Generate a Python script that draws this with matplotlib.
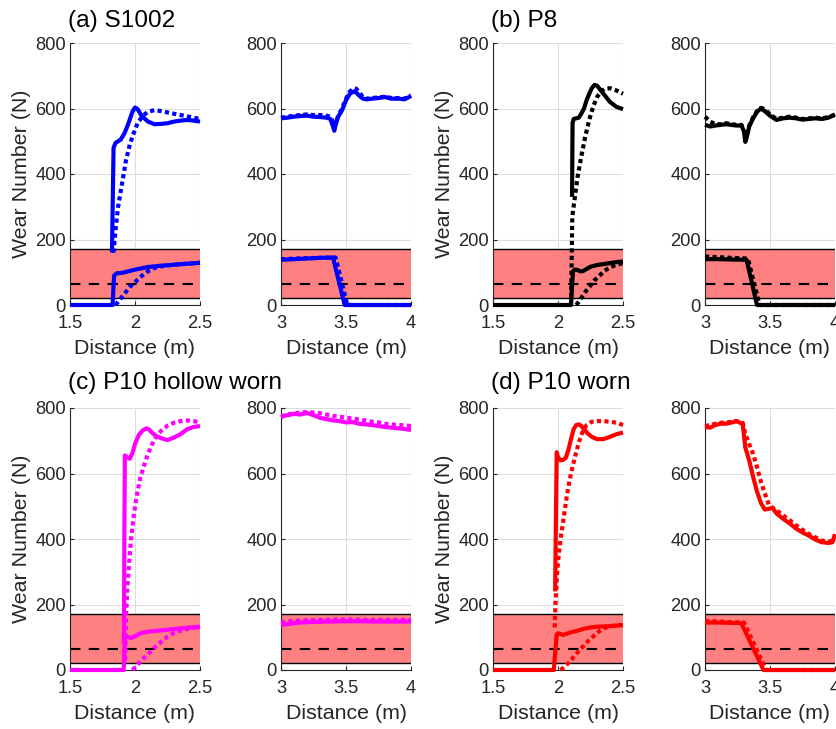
"""Wear number along distance for four wheel profiles (entry / exit of curve)"""
import matplotlib
matplotlib.use("Agg")
import matplotlib.pyplot as plt

plt.rcParams["font.family"] = ["Liberation Sans", "DejaVu Sans"]

## Band limits and reference line (N)
BAND_LOW = 20
BAND_HIGH = 170
BAND_MID = 65

## (a) S1002 - entry, x in [1.5, 2.5]
a_in_hi_solid = ([1.823, 1.835, 1.85, 1.87, 1.89, 1.92, 1.95, 1.98, 2.0, 2.02, 2.05, 2.1, 2.15, 2.2, 2.25, 2.3, 2.35, 2.4, 2.45, 2.5],
                 [160, 480, 495, 500, 505, 525, 555, 590, 603, 598, 578, 560, 552, 553, 555, 560, 563, 565, 563, 560])
a_in_hi_dot = ([1.835, 1.85, 1.87, 1.9, 1.93, 1.96, 1.99, 2.02, 2.06, 2.1, 2.15, 2.2, 2.25, 2.3, 2.35, 2.4, 2.45, 2.5],
               [160, 230, 300, 370, 440, 490, 525, 555, 578, 590, 595, 592, 588, 584, 580, 576, 572, 568])
a_in_lo_solid = ([1.5, 1.828, 1.835, 1.84, 1.86, 1.9, 1.95, 2.0, 2.05, 2.1, 2.2, 2.3, 2.4, 2.5],
                 [0, 0, 60, 90, 97, 98, 103, 108, 112, 116, 120, 123, 126, 129])
a_in_lo_dot = ([1.85, 1.88, 1.92, 1.96, 2.0, 2.05, 2.1, 2.15, 2.2, 2.3, 2.4, 2.5],
               [0, 15, 35, 55, 70, 88, 103, 113, 118, 123, 126, 129])

## (a) S1002 - exit, x in [3, 4]
a_out_x = [3.0, 3.05, 3.1, 3.15, 3.2, 3.25, 3.3, 3.35, 3.38, 3.4, 3.41, 3.42, 3.44, 3.47, 3.5, 3.53,
           3.56, 3.58, 3.6, 3.63, 3.66, 3.7, 3.75, 3.8, 3.85, 3.9, 3.95, 4.0]
a_out_hi_solid = (a_out_x, [570, 572, 575, 577, 578, 575, 574, 572, 568, 545, 532, 550, 575, 595, 625, 645,
                            652, 648, 640, 630, 628, 630, 632, 635, 630, 630, 628, 638])
a_out_hi_dot = (a_out_x, [572, 575, 578, 580, 582, 580, 580, 578, 575, 560, 545, 555, 578, 600, 630, 652,
                          662, 660, 650, 635, 630, 632, 634, 636, 632, 632, 630, 640])
a_out_lo_solid = ([3.0, 3.1, 3.2, 3.3, 3.4, 3.49, 4.0], [138, 140, 142, 144, 145, 0, 0])
a_out_lo_dot = ([3.0, 3.2, 3.42, 3.51, 4.0], [140, 143, 145, 0, 0])

## (b) P8 - entry
b_in_hi_solid = ([2.108, 2.112, 2.12, 2.14, 2.16, 2.18, 2.2, 2.22, 2.24, 2.26, 2.28, 2.3, 2.32, 2.35, 2.4, 2.45, 2.5],
                 [330, 555, 568, 570, 572, 585, 600, 625, 645, 662, 672, 670, 660, 645, 620, 605, 598])
b_in_hi_dot = ([2.1, 2.105, 2.11, 2.13, 2.15, 2.18, 2.21, 2.24, 2.27, 2.3, 2.33, 2.36, 2.4, 2.45, 2.5],
               [0, 130, 270, 330, 390, 455, 515, 565, 605, 635, 652, 660, 662, 655, 645])
b_in_lo_solid = ([1.5, 2.1, 2.108, 2.115, 2.13, 2.15, 2.17, 2.19, 2.22, 2.25, 2.3, 2.35, 2.4, 2.45, 2.5],
                 [0, 0, 60, 103, 108, 107, 103, 103, 110, 117, 122, 125, 128, 131, 133])
b_in_lo_dot = ([2.14, 2.17, 2.2, 2.24, 2.28, 2.32, 2.36, 2.4, 2.45, 2.5],
               [0, 15, 35, 55, 75, 90, 105, 115, 123, 128])

## (b) P8 - exit
b_out_x = [3.0, 3.04, 3.08, 3.12, 3.16, 3.2, 3.24, 3.28, 3.3, 3.31, 3.32, 3.34, 3.37, 3.4, 3.43, 3.46,
           3.5, 3.55, 3.6, 3.65, 3.7, 3.75, 3.8, 3.85, 3.9, 3.95, 4.0]
b_out_hi_solid = (b_out_x, [550, 545, 548, 550, 552, 550, 548, 548, 530, 498, 510, 545, 570, 590, 600, 592,
                            578, 565, 570, 572, 570, 566, 568, 570, 568, 572, 582])
b_out_hi_dot = (b_out_x, [575, 560, 552, 552, 555, 553, 550, 550, 535, 505, 515, 548, 573, 592, 602, 598,
                          582, 568, 572, 575, 572, 568, 570, 572, 570, 574, 580])
b_out_lo_solid = ([3.0, 3.1, 3.2, 3.32, 3.4, 4.0], [140, 140, 139, 138, 0, 0])
b_out_lo_dot = ([3.0, 3.1, 3.2, 3.33, 3.42, 4.0], [148, 146, 144, 142, 0, 0])

## (c) P10 hollow worn - entry
c_in_hi_solid = ([1.915, 1.918, 1.922, 1.94, 1.96, 1.98, 2.0, 2.03, 2.06, 2.09, 2.11, 2.13, 2.16, 2.2, 2.25, 2.3, 2.35, 2.4, 2.45, 2.5],
                 [80, 400, 655, 650, 645, 662, 690, 718, 732, 738, 734, 725, 715, 708, 702, 710, 720, 735, 742, 745])
c_in_hi_dot = ([1.925, 1.93, 1.94, 1.955, 1.97, 1.99, 2.01, 2.04, 2.07, 2.1, 2.13, 2.16, 2.2, 2.25, 2.3, 2.35, 2.4, 2.45, 2.5],
               [30, 150, 240, 330, 400, 470, 525, 585, 625, 660, 688, 710, 730, 746, 755, 760, 762, 760, 756])
c_in_lo_solid = ([1.5, 1.913, 1.918, 1.925, 1.95, 1.97, 2.0, 2.03, 2.06, 2.1, 2.15, 2.2, 2.3, 2.4, 2.5],
                 [0, 0, 60, 105, 100, 98, 103, 110, 114, 117, 119, 121, 125, 129, 132])
c_in_lo_dot = ([1.98, 2.01, 2.05, 2.1, 2.15, 2.2, 2.25, 2.3, 2.35, 2.4, 2.45, 2.5],
               [0, 12, 30, 48, 68, 86, 102, 113, 120, 125, 128, 130])

## (c) P10 hollow worn - exit
c_out_x = [3.0, 3.05, 3.1, 3.15, 3.2, 3.25, 3.3, 3.35, 3.4, 3.45, 3.5, 3.55, 3.6, 3.65, 3.7, 3.75, 3.8,
           3.85, 3.9, 3.95, 4.0]
c_out_hi_solid = (c_out_x, [776, 778, 782, 780, 785, 778, 770, 766, 762, 760, 756, 757, 752, 750, 748, 745,
                            742, 740, 738, 736, 733])
c_out_hi_dot = (c_out_x, [772, 780, 784, 786, 788, 786, 784, 780, 776, 774, 770, 768, 765, 762, 758, 756,
                          752, 750, 748, 747, 745])
c_out_lo_solid = (c_out_x, [138, 140, 143, 145, 146, 147, 147, 148, 148, 149, 149, 149, 149, 149, 148, 148,
                            148, 148, 148, 148, 148])
c_out_lo_dot = (c_out_x, [145, 148, 150, 151, 152, 152, 153, 153, 154, 154, 154, 154, 154, 153, 153, 153,
                          153, 153, 153, 153, 153])

## (d) P10 worn - entry
d_in_hi_solid = ([1.978, 1.985, 1.99, 2.0, 2.02, 2.04, 2.06, 2.08, 2.1, 2.12, 2.14, 2.16, 2.18, 2.2, 2.23, 2.26, 2.3, 2.35, 2.4, 2.45, 2.5],
                 [240, 500, 665, 650, 640, 642, 648, 672, 705, 735, 748, 750, 745, 735, 722, 712, 705, 705, 712, 720, 725])
d_in_hi_dot = ([1.975, 1.98, 1.99, 2.0, 2.02, 2.04, 2.06, 2.08, 2.1, 2.13, 2.16, 2.19, 2.22, 2.26, 2.3, 2.35, 2.4, 2.45, 2.5],
               [130, 200, 280, 330, 400, 455, 510, 560, 600, 650, 695, 728, 748, 758, 760, 760, 758, 755, 748])
d_in_lo_solid = ([1.5, 1.968, 1.98, 1.99, 2.0, 2.02, 2.04, 2.06, 2.1, 2.15, 2.2, 2.25, 2.3, 2.4, 2.5],
                 [0, 0, 60, 108, 112, 110, 107, 110, 115, 120, 126, 130, 132, 134, 137])
d_in_lo_dot = ([2.02, 2.05, 2.09, 2.13, 2.17, 2.21, 2.25, 2.29, 2.33, 2.37, 2.42, 2.5],
               [0, 10, 25, 45, 62, 80, 95, 110, 122, 130, 135, 138])

## (d) P10 worn - exit
d_out_x = [3.0, 3.04, 3.08, 3.12, 3.16, 3.2, 3.24, 3.27, 3.29, 3.31, 3.34, 3.37, 3.4, 3.43, 3.46, 3.49,
           3.52, 3.55, 3.6, 3.65, 3.7, 3.75, 3.8, 3.85, 3.9, 3.95, 3.98, 4.0]
d_out_hi_solid = (d_out_x, [742, 740, 748, 752, 752, 755, 760, 755, 750, 680, 640, 590, 545, 510, 490, 492,
                            495, 478, 462, 448, 432, 420, 410, 398, 390, 388, 390, 415])
d_out_hi_dot = (d_out_x, [745, 748, 752, 755, 755, 758, 760, 758, 755, 720, 690, 660, 620, 575, 540, 505,
                          495, 488, 472, 458, 442, 428, 415, 405, 395, 392, 395, 410])
d_out_lo_solid = ([3.0, 3.1, 3.2, 3.28, 3.45, 4.0], [145, 145, 144, 143, 0, 0])
d_out_lo_dot = ([3.0, 3.1, 3.2, 3.3, 3.47, 4.0], [150, 148, 146, 145, 0, 0])

TITLES = ["(a) S1002", "(b) P8", "(c) P10 hollow worn", "(d) P10 worn"]
COLORS = ["#0000FF", "#000000", "#FF00FF", "#FF0000"]
IN_TICKS = [1.5, 2, 2.5]
IN_LABELS = ["1.5", "2", "2.5"]
OUT_TICKS = [3, 3.5, 4]
OUT_LABELS = ["3", "3.5", "4"]
Y_TICKS = [0, 200, 400, 600, 800]

AX_GREY = "#262626"
FIG_W, FIG_H = 837, 729


def style_axes(ax, xlim, xticks, xlabels, ylabel):
    """MATLAB-like look: box off, grid on, ticks in"""
    ax.set_xlim(*xlim)
    ax.set_ylim(0, 800)
    ax.set_xticks(xticks)
    ax.set_xticklabels(xlabels)
    ax.set_yticks(Y_TICKS)
    ax.grid(True, color="#dcdcdc", linewidth=0.8)
    ax.set_axisbelow(True)
    for side in ["top", "right"]:
        ax.spines[side].set_visible(False)
    for side in ["left", "bottom"]:
        ax.spines[side].set_color(AX_GREY)
        ax.spines[side].set_linewidth(0.8)
    ax.tick_params(direction="in", length=3, color=AX_GREY, labelcolor=AX_GREY, labelsize=13.2)
    ax.tick_params(axis="x", pad=7.5)
    ax.tick_params(axis="y", pad=3)
    ax.set_xlabel("Distance (m)", fontsize=15.4, color=AX_GREY, labelpad=5)
    if ylabel:
        ax.set_ylabel("Wear Number (N)", fontsize=15.4, color=AX_GREY, labelpad=3)


def draw_panel(ax, color, lines):
    """Band, reference lines, then the two solid and two dotted curves"""
    ax.axhspan(BAND_LOW, BAND_HIGH, color="#FF8080", zorder=1, linewidth=0)
    ax.axhline(BAND_HIGH, color="k", linewidth=1.0, zorder=2)
    ax.axhline(BAND_LOW, color="k", linewidth=1.0, zorder=2)
    ax.axhline(BAND_MID, color="k", linewidth=1.5, linestyle=(0, (5, 4)), zorder=2)
    hi_solid, hi_dot, lo_solid, lo_dot = lines
    for xs, ys in [hi_solid, lo_solid]:
        ax.plot(xs, ys, color=color, linewidth=3, solid_capstyle="butt", zorder=3, clip_on=False)
    for xs, ys in [hi_dot, lo_dot]:
        ax.plot(xs, ys, color=color, linewidth=3, linestyle=(0, (1.0, 0.8)),
                dash_capstyle="butt", zorder=3, clip_on=False)


panels = [
    (a_in_hi_solid, a_in_hi_dot, a_in_lo_solid, a_in_lo_dot),
    (a_out_hi_solid, a_out_hi_dot, a_out_lo_solid, a_out_lo_dot),
    (b_in_hi_solid, b_in_hi_dot, b_in_lo_solid, b_in_lo_dot),
    (b_out_hi_solid, b_out_hi_dot, b_out_lo_solid, b_out_lo_dot),
    (c_in_hi_solid, c_in_hi_dot, c_in_lo_solid, c_in_lo_dot),
    (c_out_hi_solid, c_out_hi_dot, c_out_lo_solid, c_out_lo_dot),
    (d_in_hi_solid, d_in_hi_dot, d_in_lo_solid, d_in_lo_dot),
    (d_out_hi_solid, d_out_hi_dot, d_out_lo_solid, d_out_lo_dot),
]

fig = plt.figure(figsize=(FIG_W / 100, FIG_H / 100), dpi=100)
lefts = [70, 281, 493, 705]
bottoms = [424, 59]
ax_w, ax_h = 130, 262

for i, lines in enumerate(panels):
    row = i // 4
    col = i % 4
    ax = fig.add_axes([lefts[col] / FIG_W, bottoms[row] / FIG_H, ax_w / FIG_W, ax_h / FIG_H])
    profile = row * 2 + col // 2
    is_entry = col % 2 == 0
    draw_panel(ax, COLORS[profile], lines)
    if is_entry:
        style_axes(ax, (1.5, 2.5), IN_TICKS, IN_LABELS, True)
    else:
        style_axes(ax, (3, 4), OUT_TICKS, OUT_LABELS, False)

## Panel titles sit top-left of each pair
title_pos = [(68, 21), (491, 21), (68, 383), (491, 383)]
for title, (tx, ty) in zip(TITLES, title_pos):
    fig.text(tx / FIG_W, 1 - ty / FIG_H, title, fontsize=17.6, va="center", ha="left", color="k")

fig.savefig("out.png", dpi=100)
